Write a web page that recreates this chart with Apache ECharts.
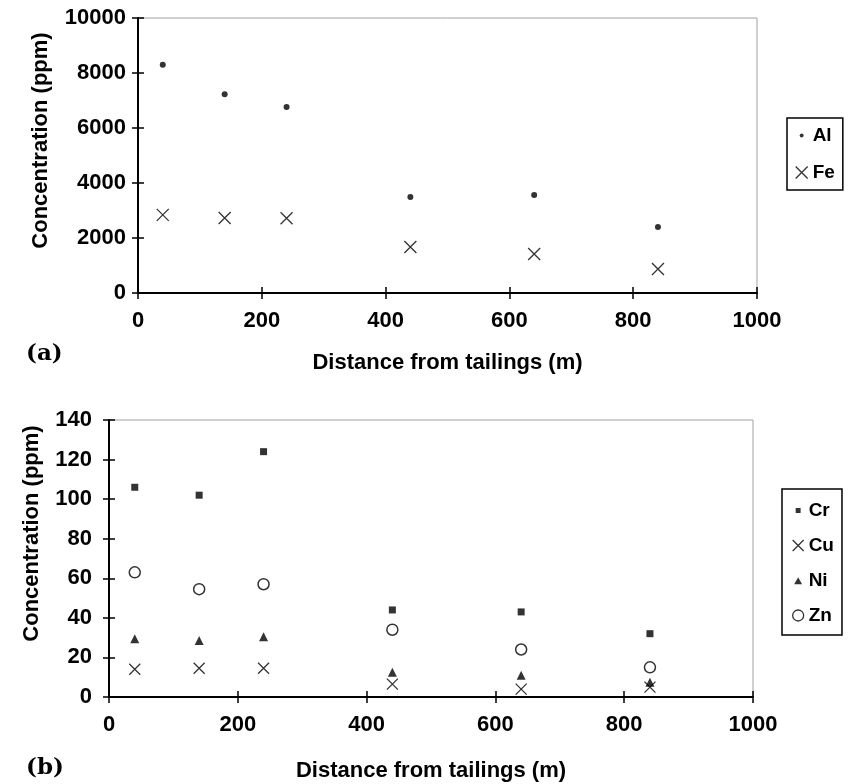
<!DOCTYPE html>
<html>
<head>
<meta charset="utf-8">
<script src="https://cdn.jsdelivr.net/npm/echarts@6/dist/echarts.min.js"></script>
<style>
html,body{margin:0;padding:0;background:#fff;}
#chart{width:850px;height:784px;}
</style>
</head>
<body>
<div id="chart"></div>
<script>
// ---- Data ----
const distance = [40, 140, 240, 440, 640, 840];
const alValues = [8300, 7230, 6760, 3490, 3560, 2400];
const feValues = [2840, 2730, 2720, 1670, 1420, 870];
const crValues = [106, 102, 124, 44, 43, 32];
const cuValues = [14, 14.5, 14.5, 6.5, 4, 5];
const niValues = [29.5, 28.5, 30.5, 12.5, 11, 7.5];
const znValues = [63, 54.5, 57, 34, 24, 15];
const xTicks = [0, 200, 400, 600, 800, 1000];
const yTicksTop = [0, 2000, 4000, 6000, 8000, 10000];
const yTicksBottom = [0, 20, 40, 60, 80, 100, 120, 140];

const FONT = 'Liberation Sans, Arial, sans-serif';
const crossPath = 'path://M0,0L10,10M10,0L0,10';
const dotIcon = 'path://M0,0M12,12M6,4L7.4,4.6L8,6L7.4,7.4L6,8L4.6,7.4L4,6L4.6,4.6Z';
const squareIcon = 'path://M0,0M12,12M3.3,3.3L8.7,3.3L8.7,8.7L3.3,8.7Z';
const triIcon = 'path://M0,0M12,12M6,2.5L10.3,10L1.7,10Z';

function pairs(vals) { return distance.map((d, i) => [d, vals[i]]); }
const plain = v => String(v);

// grid geometry (px)
const G = [
  { left: 138, top: 18, width: 619, height: 275 },
  { left: 109, top: 420, width: 644, height: 277 }
];

function xAxes(gi, ticks, label, cfg) {
  const min = ticks[0], max = ticks[ticks.length - 1], interval = ticks[1] - ticks[0];
  const base = { type: 'value', gridIndex: gi, min, max, interval, splitLine: { show: false } };
  return [
    Object.assign({}, base, {
      position: 'bottom',
      axisLine: { show: true, onZero: false, lineStyle: { color: '#000', width: 2 } },
      axisTick: { show: false },
      axisLabel: { margin: cfg.xMargin, fontSize: 22, fontWeight: 'bold', color: '#000', fontFamily: FONT, formatter: plain },
      name: label, nameLocation: 'middle', nameGap: cfg.xNameGap,
      nameTextStyle: { fontSize: 22, fontWeight: 'bold', color: '#000', fontFamily: FONT }
    }),
    // tick-only axis moved onto the bottom edge so its ticks cross the axis line
    Object.assign({}, base, {
      position: 'top', offset: -(G[gi].height + 6),
      axisLine: { show: true, onZero: false, lineStyle: { color: 'rgba(0,0,0,0)', width: 0 } },
      axisTick: { show: true, inside: false, length: 12, lineStyle: { color: '#000', width: 1.5 } },
      axisLabel: { show: false }
    })
  ];
}

function yAxes(gi, ticks, label, cfg) {
  const min = ticks[0], max = ticks[ticks.length - 1], interval = ticks[1] - ticks[0];
  const base = { type: 'value', gridIndex: gi, min, max, interval, splitLine: { show: false } };
  return [
    Object.assign({}, base, {
      position: 'left',
      axisLine: { show: true, onZero: false, lineStyle: { color: '#000', width: 2 } },
      axisTick: { show: false },
      axisLabel: { margin: cfg.yMargin, fontSize: 22, fontWeight: 'bold', color: '#000', fontFamily: FONT, formatter: plain },
      name: label, nameLocation: 'middle', nameGap: cfg.yNameGap, nameRotate: 90,
      nameTextStyle: { fontSize: 22, fontWeight: 'bold', color: '#000', fontFamily: FONT, padding: cfg.yNamePad }
    }),
    Object.assign({}, base, {
      position: 'right', offset: -(G[gi].width + 6),
      axisLine: { show: true, onZero: false, lineStyle: { color: 'rgba(0,0,0,0)', width: 0 } },
      axisTick: { show: true, inside: false, length: 12, lineStyle: { color: '#000', width: 1.5 } },
      axisLabel: { show: false }
    })
  ];
}

const c0 = { xMargin: 17, xNameGap: 59, yMargin: 12, yNameGap: 86, yNamePad: [0, 0, 0, 30] };
const c1 = { xMargin: 17, xNameGap: 63, yMargin: 17, yNameGap: 66, yNamePad: [0, 0, 0, 50] };

const legendText = { fontSize: 19, fontWeight: 'bold', color: '#000', fontFamily: FONT };

const option = {
  animation: false,
  backgroundColor: '#fff',
  grid: G.map(g => Object.assign({ show: true, borderColor: '#a0a0a0', borderWidth: 1, backgroundColor: 'transparent' }, g)),
  xAxis: [].concat(xAxes(0, xTicks, 'Distance from tailings (m)', c0), xAxes(1, xTicks, 'Distance from tailings (m)', c1)),
  yAxis: [].concat(yAxes(0, yTicksTop, 'Concentration (ppm)', c0), yAxes(1, yTicksBottom, 'Concentration (ppm)', c1)),
  legend: [
    {
      orient: 'vertical', left: 787, top: 118, itemWidth: 12, itemHeight: 12, itemGap: 18,
      padding: [8, 8, 8, 8], borderColor: '#000', borderWidth: 1.5, textStyle: legendText,
      data: [
        { name: 'Al', icon: dotIcon, itemStyle: { color: '#000', borderWidth: 0 } },
        { name: 'Fe', icon: crossPath, itemStyle: { color: '#000', borderColor: '#000', borderWidth: 1.3 } }
      ]
    },
    {
      orient: 'vertical', left: 782, top: 489, itemWidth: 11, itemHeight: 11, itemGap: 16,
      padding: [12, 8, 10, 10], borderColor: '#000', borderWidth: 1.5, textStyle: legendText,
      data: [
        { name: 'Cr', icon: squareIcon, itemStyle: { color: '#000', borderWidth: 0 } },
        { name: 'Cu', icon: crossPath, itemStyle: { color: '#000', borderColor: '#000', borderWidth: 1.3 } },
        { name: 'Ni', icon: triIcon, itemStyle: { color: '#000', borderWidth: 0 } },
        { name: 'Zn', icon: 'circle', itemStyle: { color: '#fff', borderColor: '#000', borderWidth: 1.3 } }
      ]
    }
  ],
  series: [
    { name: 'Al', type: 'scatter', xAxisIndex: 0, yAxisIndex: 0, symbol: 'circle', symbolSize: 6,
      itemStyle: { color: '#000' }, data: pairs(alValues) },
    { name: 'Fe', type: 'scatter', xAxisIndex: 0, yAxisIndex: 0, symbol: crossPath, symbolSize: 12,
      itemStyle: { color: '#000', borderColor: '#000', borderWidth: 1.3 }, data: pairs(feValues) },
    { name: 'Cr', type: 'scatter', xAxisIndex: 2, yAxisIndex: 2, symbol: 'rect', symbolSize: 7,
      itemStyle: { color: '#000' }, data: pairs(crValues) },
    { name: 'Cu', type: 'scatter', xAxisIndex: 2, yAxisIndex: 2, symbol: crossPath, symbolSize: 11,
      itemStyle: { color: '#000', borderColor: '#000', borderWidth: 1.3 }, data: pairs(cuValues) },
    { name: 'Ni', type: 'scatter', xAxisIndex: 2, yAxisIndex: 2, symbol: 'triangle', symbolSize: 9,
      itemStyle: { color: '#000' }, data: pairs(niValues) },
    { name: 'Zn', type: 'scatter', xAxisIndex: 2, yAxisIndex: 2, symbol: 'circle', symbolSize: 11,
      itemStyle: { color: '#fff', borderColor: '#000', borderWidth: 1.5 }, data: pairs(znValues) }
  ],
  graphic: [
    { type: 'text', left: 26, top: 343, style: { text: '(a)', font: 'bold 23px "DejaVu Serif", serif', fill: '#000' } },
    { type: 'text', left: 26, top: 757, style: { text: '(b)', font: 'bold 23px "DejaVu Serif", serif', fill: '#000' } }
  ]
};

const chart = echarts.init(document.getElementById('chart'), null, { renderer: 'canvas' });
chart.setOption(option);
</script>
</body>
</html>
